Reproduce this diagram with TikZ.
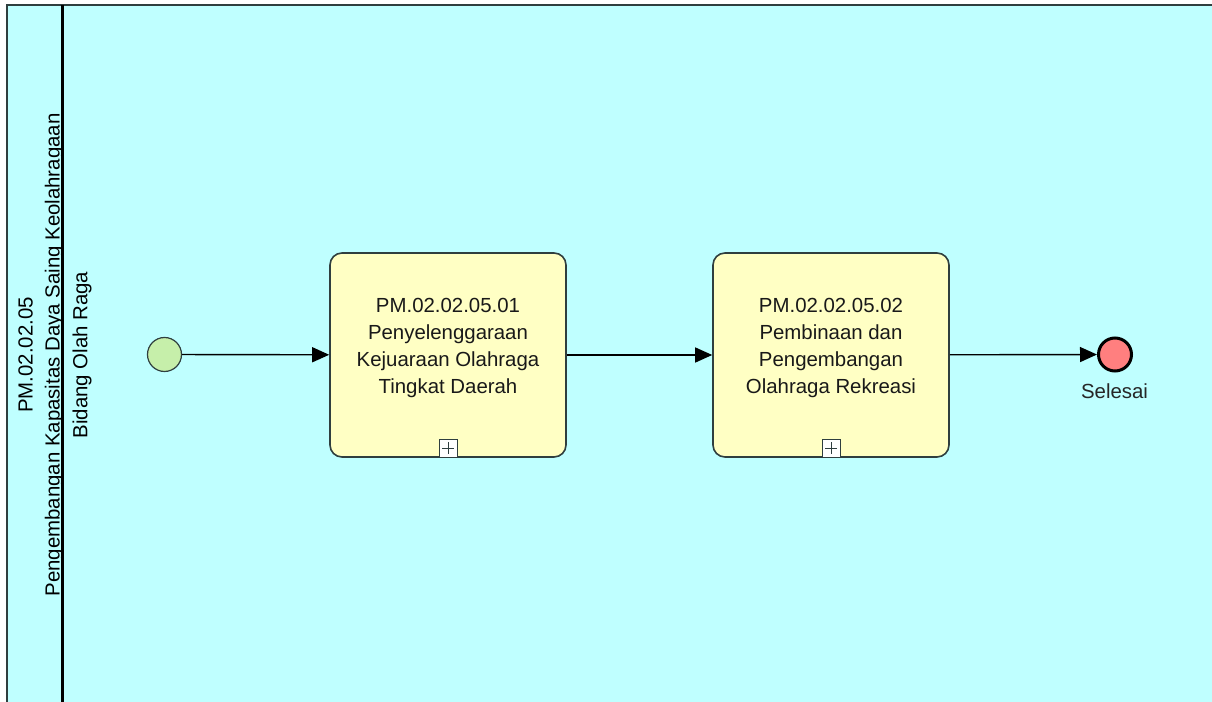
\documentclass[tikz,border=0pt]{standalone}
\usepackage{fontspec}
\setmainfont{Liberation Sans}
\usetikzlibrary{arrows.meta}
\definecolor{poolbg}{HTML}{BFFFFF}
\definecolor{taskfill}{HTML}{FFFFC4}
\definecolor{startfill}{HTML}{C6EFAA}
\definecolor{endfill}{HTML}{FF7F7F}
\definecolor{edge}{HTML}{2F3F3F}
\tikzset{
  flow/.style={-{Triangle[length=8.5pt,width=7.5pt]},line width=0.7pt,black},
  task/.style={draw=edge,fill=taskfill,rounded corners=6pt,line width=0.8pt,
    minimum width=118pt,minimum height=102pt,inner sep=0pt},
  tasktext/.style={font=\fontsize{10.2}{13.5}\selectfont,align=center,text=black!90},
  subplus/.style={draw=edge,fill=white,line width=0.5pt,minimum size=9pt,inner sep=0pt,
    path picture={\draw[line width=0.5pt]
      ([yshift=-1.5pt]path picture bounding box.north)--([yshift=1.5pt]path picture bounding box.south)
      ([xshift=1.5pt]path picture bounding box.west)--([xshift=-1.5pt]path picture bounding box.east);}},
  startev/.style={circle,draw=edge,fill=startfill,line width=0.6pt,minimum size=17pt,inner sep=0pt},
  endev/.style={circle,draw=black,fill=endfill,line width=1.5pt,minimum size=16.5pt,inner sep=0pt},
  evtext/.style={font=\fontsize{10.2}{12}\selectfont,text=black!85},
  lanetext/.style={font=\fontsize{10.2}{13.5}\selectfont,rotate=90,align=center,text=black}
}
\begin{document}
\begin{tikzpicture}[x=.5pt,y=.5pt]
\useasboundingbox (0,0) rectangle (1212,702);
\clip (0,0) rectangle (1212,702);
\fill[white] (0,0) rectangle (1212,702);
\fill[poolbg] (7,0) rectangle (1212,697);
\draw[edge,line width=1.2pt] (7,0)--(7,697)--(1212,697);
\node[lanetext] (pool) at (41,347) {PM.02.02.05\\Pengembangan Kapasitas Daya Saing Keolahragaan};
\draw[black,line width=1.5pt] (62,0)--(62,697);
\node[lanetext] (lane) at (82,347) {Bidang Olah Raga};
\node[startev] (start) at (164.5,347.5) {};
\node[task] (t1) at (448,347) {};
\node[tasktext] (t1text) at ([yshift=3.3pt]t1.center) {PM.02.02.05.01\\Penyelenggaraan\\Kejuaraan Olahraga\\Tingkat Daerah};
\node[subplus,anchor=south] (t1mark) at (t1.south) {};
\node[task] (t2) at (831,347) {};
\node[tasktext] (t2text) at ([yshift=3.3pt]t2.center) {PM.02.02.05.02\\Pembinaan dan\\Pengembangan\\Olahraga Rekreasi};
\node[subplus,anchor=south] (t2mark) at (t2.south) {};
\node[endev] (end) at (1115,347.5) {};
\node[evtext,anchor=base] (endtext) at (1114.5,303) {Selesai};
\draw[flow] (start)--(t1);
\draw[flow] (t1)--(t2);
\draw[flow] (t2)--(end);
\end{tikzpicture}
\end{document}
